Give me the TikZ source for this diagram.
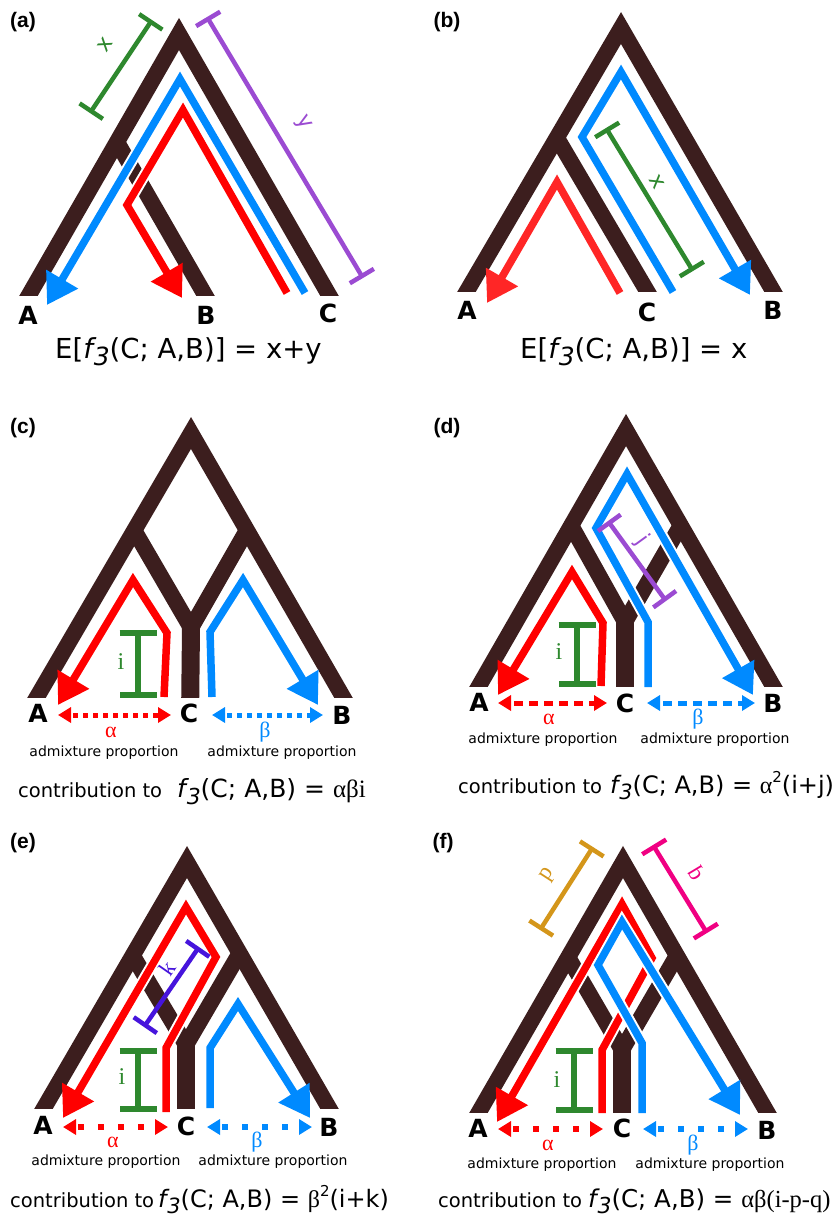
\documentclass[tikz,border=0pt]{standalone}
\usepackage{fontspec}
\setmainfont{DejaVu Sans}
\newfontfamily\serf{Liberation Serif}
\newfontfamily\plfont{Liberation Sans}
\usetikzlibrary{arrows.meta,calc}
\definecolor{brn}{RGB}{60,30,30}
\definecolor{myred}{RGB}{255,0,0}
\definecolor{myredb}{RGB}{255,38,38}
\definecolor{myblue}{RGB}{0,138,255}
\definecolor{mygreen}{RGB}{46,136,46}
\definecolor{mypurple}{RGB}{155,75,210}
\definecolor{myviolet}{RGB}{70,20,220}
\definecolor{myorange}{RGB}{212,150,26}
\definecolor{mypink}{RGB}{240,0,130}
\newcommand\fs[1]{\fontsize{#1}{#1}\selectfont}
\newcommand\fthree[1]{{\itshape f\kern0.03em\lower0.28em\hbox{\fs{#1}\itshape 3}}}
\newcommand\cpath[2]{\draw[#1,cas,-,shorten >=22pt] #2;\draw[#1] #2;}
\tikzset{
  br/.style={draw=brn,line width=16pt,line join=miter},
  stemline/.style={draw=brn,line width=18pt},
  cas/.style={draw=white,line width=11.5pt,line join=miter},
  rpath/.style={draw=myred,line width=7.5pt,line join=miter},
  bpath/.style={draw=myblue,line width=7.5pt,line join=miter},
  tipd/.style={-{Triangle[length=30pt,width=35pt]}},
  dimbar/.style={line width=4.5pt,{Bar[width=28pt]}-{Bar[width=28pt]}},
  ibar/.style={draw=mygreen,line width=6pt,{Bar[width=37pt]}-{Bar[width=37pt]}},
  leaf/.style={inner sep=0pt,font=\fs{25}\bfseries},
  plabel/.style={inner sep=0pt,font=\fs{21}\plfont\bfseries},
  adm/.style={inner sep=0pt,font=\fs{14}},
  greek/.style={inner sep=0pt,font=\fs{22}\serf},
  ilab/.style={inner sep=0pt,font=\fs{24}\serf,text=mygreen},
  slab/.style={inner sep=0pt,font=\fs{22}},
  serlab/.style={inner sep=0pt,font=\fs{23}\serf},
  captxt/.style={inner sep=0pt,anchor=base west},
  dheads/.style={{Triangle[length=13pt,width=15pt]}-{Triangle[length=13pt,width=15pt]}},
  dotc/.style={dheads,line width=5pt,dash pattern=on 5pt off 5pt,dash phase=7pt},
  dashd/.style={dheads,line width=5pt,dash pattern=on 9pt off 6pt,dash phase=11pt},
  dotw/.style={dheads,line width=5.5pt,dash pattern=on 5.5pt off 14.5pt,dash phase=17pt},
}
\begin{document}
\begin{tikzpicture}[x=1pt,y=-1pt]
\useasboundingbox (0,0) rectangle (835,1221);
\fill[white] (0,0) rectangle (835,1221);

% ================= (a)
\node[plabel] (la) at (23,22) {(a)};
\begin{scope}
\clip (0,0) rectangle (417,295);
\coordinate (aT) at (179,34);
\draw[br] ($(aT)!1.2!(29,295)$) -- (aT) -- ($(aT)!1.2!(329,295)$);
\coordinate (aJ) at (117,142);
\draw[br] (aJ) -- ($(aJ)!1.3!(205,295)$);
\end{scope}
\cpath{rpath,tipd}{(287,293) -- (183,110) -- (127,205) -- (182,298)}
\cpath{bpath,tipd}{(305,293) -- (180,79) -- (47,305)}
\draw[dimbar,draw=mygreen] (90,113) -- (152,20);
\node[slab,rotate=56,text=mygreen] (xa) at (105,45) {x};
\draw[dimbar,draw=mypurple] (207,17) -- (363,278);
\node[slab,rotate=-59,text=mypurple] (ya) at (303,123) {y};
\node[leaf] (Aa) at (28,315) {A};
\node[leaf] (Ba) at (206,315) {B};
\node[leaf] (Ca) at (328,313) {C};
\node[captxt] (capa) at (55,358) {\fs{27.5}E[\fthree{25}(C; A,B)] = x+y};

% ================= (b)
\node[plabel] (lb) at (447,22) {(b)};
\begin{scope}
\clip (418,0) rectangle (835,291);
\coordinate (bT) at (621,28);
\draw[br] ($(bT)!1.2!(467,291)$) -- (bT) -- ($(bT)!1.2!(773,291)$);
\coordinate (bJ) at (557,138);
\draw[br] (bJ) -- ($(bJ)!1.3!(647,291)$);
\end{scope}
\cpath{rpath,draw=myredb,tipd}{(620,293) -- (557,182) -- (487,303)}
\cpath{bpath,tipd}{(673,292) -- (582,137) -- (621,72) -- (750,295)}
\draw[dimbar,draw=mygreen] (606,128) -- (693,271);
\node[slab,rotate=-59,text=mygreen] (xb) at (657,182) {x};
\node[leaf] (Ab) at (467,310) {A};
\node[leaf] (Cb) at (647,312) {C};
\node[leaf] (Bb) at (773,310) {B};
\node[captxt] (capb) at (520,358) {\fs{27.5}E[\fthree{25}(C; A,B)] = x};

% ================= (c)
\node[plabel] (lc) at (23,428) {(c)};
\begin{scope}
\clip (0,400) rectangle (417,697);
\coordinate (cT) at (191,433);
\draw[br] ($(cT)!1.2!(37,697)$) -- (cT) -- ($(cT)!1.2!(343,697)$);
\draw[br] (134,530) -- (191,628) -- (190,720);
\draw[br] (247,530) -- (191,628) -- (190,720);
\draw[stemline] (191,628) -- (190,720);
\end{scope}
\cpath{rpath,tipd}{(164,697) -- (167,633) -- (133,580) -- (58,705)}
\cpath{bpath,tipd}{(212,697) -- (210,632) -- (243,580) -- (318,705)}
\draw[ibar] (138,630) -- (138,698);
\node[ilab] (ic) at (121,662) {i};
\node[leaf] (Ac) at (38,713) {A};
\node[leaf] (Cc) at (189,713) {C};
\node[leaf] (Bc) at (342,715) {B};
\draw[dotc,draw=myred] (58,715) -- (171,715);
\draw[dotc,draw=myblue] (212,715) -- (323,715);
\node[greek,text=myred] (alc) at (111,732) {α};
\node[greek,text=myblue] (bec) at (265,732) {β};
\node[adm] (ad1c) at (104,753) {admixture proportion};
\node[adm] (ad2c) at (282,753) {admixture proportion};
\node[captxt] (capc1) at (18,797) {\fs{19.5}contribution to};
\node[captxt] (capc2) at (177,797) {\fs{25}\fthree{22}(C; A,B) = {\serf αβi}};

% ================= (d)
\node[plabel] (ld) at (447,428) {(d)};
\begin{scope}
\clip (418,400) rectangle (835,686);
\coordinate (dT) at (626,430);
\draw[br] ($(dT)!1.2!(479,686)$) -- (dT) -- ($(dT)!1.2!(773,686)$);
\draw[br] (572,527) -- (625,622) -- (625,710);
\draw[br] (681,525) -- (625,622) -- (625,710);
\draw[stemline] (625,622) -- (625,710);
\end{scope}
\cpath{rpath,tipd}{(601,686) -- (603,623) -- (572,572) -- (498,695)}
\cpath{bpath,tipd}{(648,687) -- (648,622) -- (596,528) -- (627,474) -- (753,695)}
\draw[dimbar,draw=mypurple] (608,521) -- (666,601);
\node[slab,rotate=-54,text=mypurple] (jd) at (642,540) {j};
\draw[ibar] (577,622) -- (577,687);
\node[ilab] (id) at (559,652) {i};
\node[leaf] (Ad) at (479,702) {A};
\node[leaf] (Cd) at (625,703) {C};
\node[leaf] (Bd) at (773,703) {B};
\draw[dashd,draw=myred] (498,703) -- (607,703);
\draw[dashd,draw=myblue] (647,703) -- (755,703);
\node[greek,text=myred] (ald) at (549,719) {α};
\node[greek,text=myblue] (bed) at (698,719) {β};
\node[adm] (ad1d) at (543,740) {admixture proportion};
\node[adm] (ad2d) at (715,740) {admixture proportion};
\node[captxt] (capd1) at (458,793) {\fs{19.5}contribution to};
\node[captxt] (capd2) at (610,793) {\fs{24}\fthree{21}(C; A,B) = {\serf α}\raise0.45em\hbox{\fs{15}2}(i+j)};

% ================= (e)
\node[plabel] (le) at (23,843) {(e)};
\begin{scope}
\clip (0,820) rectangle (417,1108);
\coordinate (eT) at (187,862);
\draw[br] ($(eT)!1.2!(44,1108)$) -- (eT) -- ($(eT)!1.2!(329,1108)$);
\draw[br] (133,956) -- (186,1045) -- (186,1130);
\draw[br] (238,956) -- (186,1045) -- (186,1130);
\draw[stemline] (186,1045) -- (186,1130);
\end{scope}
\cpath{rpath,tipd}{(166,1112) -- (166,1048) -- (216,957) -- (186,907) -- (63,1118)}
\cpath{bpath,tipd}{(210,1108) -- (210,1048) -- (238,1004) -- (310,1118)}
\draw[dimbar,draw=myviolet] (144,1027) -- (199,947);
\node[serlab,rotate=55,text=myviolet] (ke) at (167,968) {k};
\draw[ibar] (138,1048) -- (138,1112);
\node[ilab] (ie) at (122,1077) {i};
\node[leaf] (Ae) at (43,1125) {A};
\node[leaf] (Ce) at (186,1126) {C};
\node[leaf] (Be) at (329,1127) {B};
\draw[dotw,draw=myred] (63,1127) -- (168,1127);
\draw[dotw,draw=myblue] (207,1127) -- (312,1127);
\node[greek,text=myred] (ale) at (113,1142) {α};
\node[greek,text=myblue] (bee) at (257,1142) {β};
\node[adm] (ad1e) at (106,1162) {admixture proportion};
\node[adm] (ad2e) at (273,1162) {admixture proportion};
\node[captxt] (cape1) at (10,1207) {\fs{19.5}contribution to};
\node[captxt] (cape2) at (158,1207) {\fs{24}\fthree{21}(C; A,B) = {\serf β}\raise0.45em\hbox{\fs{15}2}(i+k)};

% ================= (f)
\node[plabel] (lf) at (443,843) {(f)};
\begin{scope}
\clip (418,820) rectangle (835,1112);
\coordinate (fT) at (623,862);
\draw[br] ($(fT)!1.2!(479,1112)$) -- (fT) -- ($(fT)!1.2!(767,1112)$);
\draw[br] (568,957) -- (622,1050) -- (622,1135);
\draw[br] (676,957) -- (622,1050) -- (622,1135);
\draw[stemline] (622,1050) -- (622,1135);
\end{scope}
\cpath{rpath,tipd}{(602,1113) -- (602,1050) -- (652,958) -- (622,904) -- (497,1122)}
\cpath{bpath,tipd}{(642,1113) -- (642,1043) -- (598,965) -- (622,922) -- (740,1115)}
\draw[dimbar,draw=myorange] (540,930) -- (593,847);
\node[serlab,rotate=57,text=myorange] (pf) at (548,875) {p};
\draw[dimbar,draw=mypink] (653,845) -- (707,933);
\node[serlab,rotate=121,text=mypink] (qf) at (697,873) {q};
\draw[ibar] (574,1048) -- (574,1113);
\node[ilab] (iff) at (557,1080) {i};
\node[leaf] (Af) at (478,1128) {A};
\node[leaf] (Cf) at (622,1128) {C};
\node[leaf] (Bf) at (767,1130) {B};
\draw[dotw,draw=myred] (498,1129) -- (603,1129);
\draw[dotw,draw=myblue] (643,1129) -- (748,1129);
\node[greek,text=myred] (alf) at (548,1145) {α};
\node[greek,text=myblue] (bef) at (693,1145) {β};
\node[adm] (ad1f) at (542,1165) {admixture proportion};
\node[adm] (ad2f) at (710,1165) {admixture proportion};
\node[captxt] (capf1) at (438,1207) {\fs{19.5}contribution to};
\node[captxt] (capf2) at (588,1207) {\fs{24.5}\fthree{22}(C; A,B) = {\serf αβ(i-p-q)}};
\end{tikzpicture}
\end{document}
